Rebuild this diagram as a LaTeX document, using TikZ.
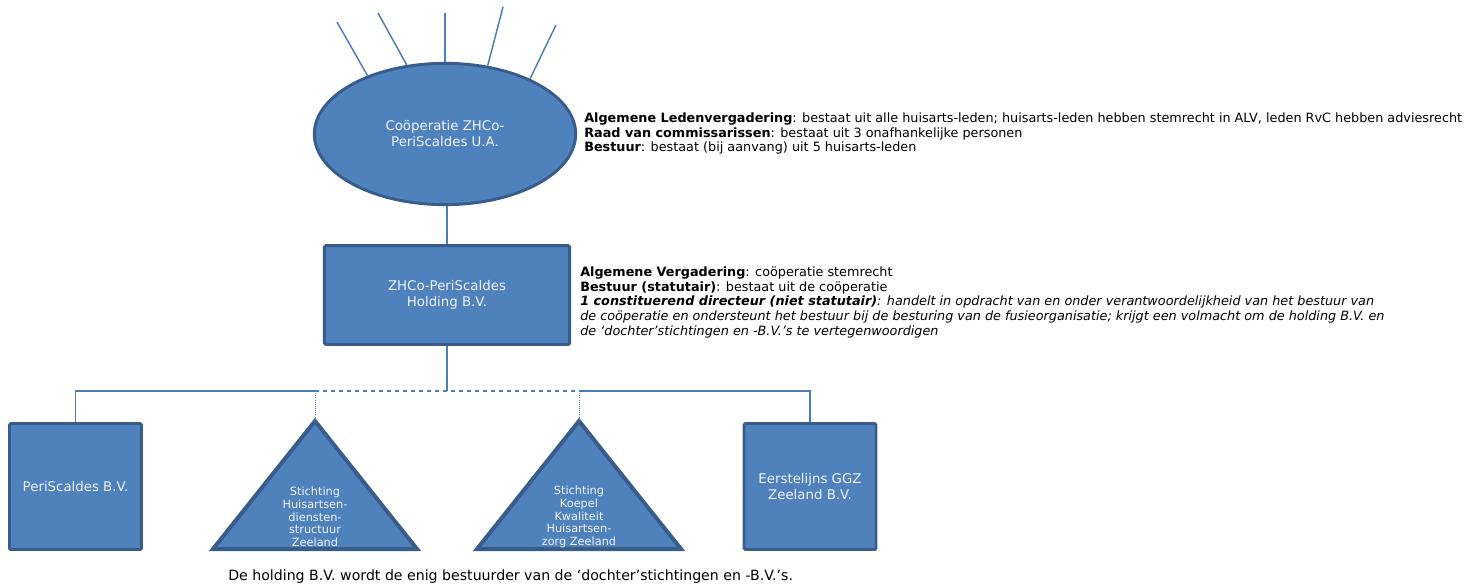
\documentclass[tikz,border=0pt]{standalone}
\usepackage{fontspec}
\setmainfont{DejaVu Sans}
\usetikzlibrary{shapes.geometric}
\definecolor{unitfill}{HTML}{4F81BD}
\definecolor{unitline}{HTML}{385D8A}
\definecolor{linkblue}{HTML}{4A7EBB}
\definecolor{unittext}{HTML}{EEF3FA}

\begin{document}
\begin{tikzpicture}[x=0.75pt,y=-0.75pt,
    unit/.style={draw=unitline,fill=unitfill,line width=2.2pt,text=unittext,
        align=center,font=\fontsize{10}{12}\selectfont},
    tri/.style={draw=unitline,fill=unitfill,line width=3pt},
    tritext/.style={text=unittext,align=center,font=\fontsize{8.5}{9.5}\selectfont},
    link/.style={draw=linkblue,line width=1.1pt},
    note/.style={anchor=north west,inner sep=0pt,align=left,
        font=\fontsize{9.6}{11}\selectfont}]
    \useasboundingbox (0,0) rectangle (1464,587);
    % cooperatie with its members on top
    \node[unit,ellipse,minimum width=196pt,minimum height=106pt,inner sep=0pt]
        (coop) at (445,134) {Coöperatie ZHCo-\\PeriScaldes U.A.};
    \coordinate (spoke1) at (337,22);
    \coordinate (spoke2) at (378,13);
    \coordinate (spoke3) at (445,13);
    \coordinate (spoke4) at (503,7);
    \coordinate (spoke5) at (556,25);
    \foreach \i/\a in {1/143,2/119,3/90,4/58,5/33}
        \draw[link] (coop.\a) -- (spoke\i);
    % holding
    \node[unit,rectangle,rounded corners=1pt,minimum width=184pt,minimum height=74pt]
        (holding) at (447,295) {ZHCo-PeriScaldes\\Holding B.V.};
    \draw[link] (holding.north) -- (holding.north |- coop.south);
    % daughters
    \node[unit,rectangle,rounded corners=1pt,minimum width=99pt,minimum height=94.5pt]
        (peri) at (75.5,486.5) {PeriScaldes B.V.};
    \node[unit,rectangle,rounded corners=1pt,minimum width=99pt,minimum height=94.5pt]
        (ggz) at (810,486.5) {Eerstelijns GGZ\\Zeeland B.V.};
    \coordinate (hds-top) at (315,421);
    \coordinate (kkz-top) at (579,421);
    \draw[tri] (hds-top) -- (213,549) -- (417,549) -- cycle;
    \draw[tri] (kkz-top) -- (477,549) -- (681,549) -- cycle;
    \node[tritext] (hds) at (315,517) {Stichting\\Huisartsen-\\diensten-\\structuur\\Zeeland};
    \node[tritext] (kkz) at (579,517) {Stichting\\Koepel\\Kwaliteit\\Huisartsen-\\zorg Zeeland};
    % tree below the holding
    \coordinate (hub) at (447,391);
    \draw[link] (holding.south) -- (hub);
    \draw[link] (peri.north) |- (hds-top |- hub);
    \draw[link,dashed] (hds-top |- hub) -- (kkz-top |- hub);
    \draw[link] (kkz-top |- hub) -| (ggz.north);
    \draw[draw=linkblue,line width=0.6pt,densely dotted] (hds-top |- hub) -- (hds-top);
    \draw[draw=linkblue,line width=0.6pt,densely dotted] (kkz-top |- hub) -- (kkz-top);
    % notes
    \node[note] (coopnote) at (584,112.5) {%
        \textbf{Algemene Ledenvergadering}: bestaat uit alle huisarts-leden; huisarts-leden hebben stemrecht in ALV, leden RvC hebben adviesrecht\\
        \textbf{Raad van commissarissen}: bestaat uit 3 onafhankelijke personen\\
        \textbf{Bestuur}: bestaat (bij aanvang) uit 5 huisarts-leden};
    \node[note] (holdingnote) at (580,266.5) {%
        \textbf{Algemene Vergadering}: coöperatie stemrecht\\
        \textbf{Bestuur (statutair)}: bestaat uit de coöperatie\\
        \textbf{\itshape 1 constituerend directeur (niet statutair)}\textit{: handelt in opdracht van en onder verantwoordelijkheid van het bestuur van}\\
        \textit{de coöperatie en ondersteunt het bestuur bij de besturing van de fusieorganisatie; krijgt een volmacht om de holding B.V. en}\\
        \textit{de ‘dochter’stichtingen en -B.V.’s te vertegenwoordigen}};
    \node[anchor=base west,inner sep=0pt,font=\fontsize{10.6}{12}\selectfont]
        (caption) at (228,580) {De holding B.V. wordt de enig bestuurder van de ‘dochter’stichtingen en -B.V.’s.};
\end{tikzpicture}
\end{document}
